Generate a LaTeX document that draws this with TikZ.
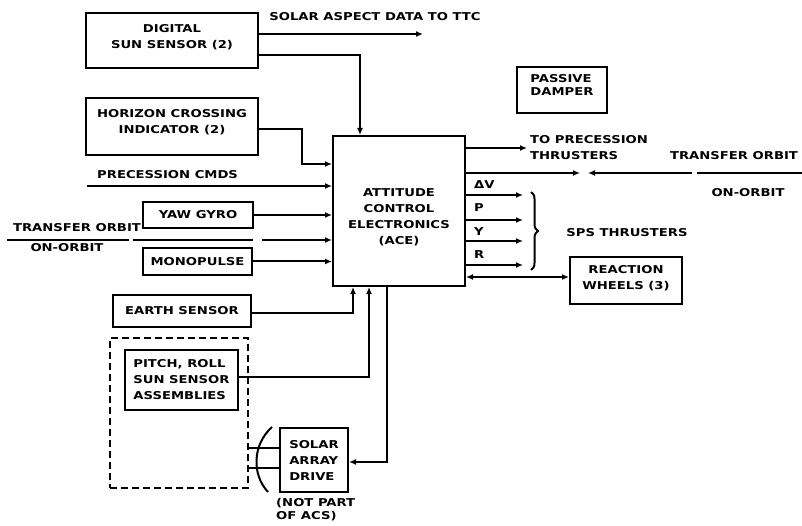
\documentclass[tikz,border=0pt]{standalone}
\usepackage{fontspec}
\setmainfont[FakeStretch=1.22]{DejaVu Sans}
\usetikzlibrary{arrows.meta,decorations.pathreplacing,calc}
\begin{document}
\begin{tikzpicture}[x=1pt,y=-1pt,
  every node/.style={font=\bfseries\fontsize{10.8}{16}\selectfont},
  box/.style={draw,line width=2pt,inner sep=0pt,align=center},
  dbox/.style={draw,line width=2pt,dashed,dash pattern=on 7pt off 4pt,inner sep=0pt},
  ln/.style={line width=2pt},
  arr/.style={line width=2pt,-{Latex[length=7pt,width=6pt]}},
  larr/.style={line width=2pt,{Latex[length=7pt,width=6pt]}-},
  barr/.style={line width=2pt,{Latex[length=7pt,width=6pt]}-{Latex[length=7pt,width=6pt]}},
  lbl/.style={inner sep=0pt}]
\useasboundingbox (0,0) rectangle (802,526);
% boxes
\node[box,minimum width=172pt,minimum height=55pt] (dss) at (172,40.5) {DIGITAL\\SUN SENSOR (2)\\[-8pt]};
\node[box,minimum width=172pt,minimum height=57pt] (hci) at (172,126.5) {HORIZON CROSSING\\INDICATOR (2)\\[-5pt]};
\node[box,minimum width=132pt,minimum height=150pt] (ace) at (399,211) {\rule{0pt}{20pt}ATTITUDE\\CONTROL\\ELECTRONICS\\(ACE)};
\node[box,minimum width=110pt,minimum height=26pt] (yaw) at (198,215) {YAW GYRO};
\node[box,minimum width=109pt,minimum height=27pt] (mono) at (197.5,261.5) {MONOPULSE};
\node[box,minimum width=138pt,minimum height=32pt] (earth) at (182,311) {EARTH SENSOR};
\node[dbox,minimum width=138pt,minimum height=150pt] (dash) at (179,413) {};
\node[box,minimum width=113pt,minimum height=60pt,align=left] (pitch) at (181.5,380) {PITCH, ROLL\\SUN SENSOR\\ASSEMBLIES};
\node[box,minimum width=68pt,minimum height=64pt,align=left] (sad) at (314,460) {SOLAR\\ARRAY\\DRIVE};
\node[box,minimum width=90pt,minimum height=46pt,align=left] (damp) at (562,90) {PASSIVE\\[-3pt]DAMPER\\[-6pt]};
\node[box,minimum width=112pt,minimum height=47pt] (rw) at (626,280.5) {REACTION\\WHEELS (3)\\[-10pt]};
% labels
\node[lbl] (tsolar) at (375,17) {SOLAR ASPECT DATA TO TTC};
\node[lbl,anchor=west,align=left] (tprec) at (530,148) {TO PRECESSION\\THRUSTERS};
\node[lbl] (ttor) at (734,156) {TRANSFER ORBIT};
\node[lbl] (tonr) at (748,193) {ON-ORBIT};
\node[lbl,anchor=west] (tcmd) at (97,175) {PRECESSION CMDS};
\node[lbl] (ttol) at (77,228) {TRANSFER ORBIT};
\node[lbl] (tonl) at (67,248) {ON-ORBIT};
\node[lbl,anchor=west] (tdv) at (474,185) {ΔV};
\node[lbl,anchor=west] (tp) at (474,208) {P};
\node[lbl,anchor=west] (ty) at (474,232) {Y};
\node[lbl,anchor=west] (tr) at (474,255) {R};
\node[lbl] (tsps) at (627,233) {SPS THRUSTERS};
\node[lbl,anchor=west,align=left] (tnot) at (276,510) {(NOT PART\\[-3pt]OF ACS)};
% coordinates
\coordinate (ttc) at (423,34);
\coordinate (a1) at (360,55);
\coordinate (h1) at (302,129);
\coordinate (h2) at (302,164);
\coordinate (pc) at (87,186);
\coordinate (o1) at (7,240);
\coordinate (o2) at (129,240);
\coordinate (o3) at (133,240);
\coordinate (o4) at (253,240);
\coordinate (o5) at (262,240);
\coordinate (e1) at (353,313);
\coordinate (p1) at (369,377);
\coordinate (s1) at (387,462);
\coordinate (pt) at (527,148);
\coordinate (r1) at (580,173);
\coordinate (r2) at (588,173);
\coordinate (r3) at (692,173);
\coordinate (r4) at (697,173);
\coordinate (r5) at (802,173);
\coordinate (tdvc) at (523,195);
\coordinate (tpc) at (523,220);
\coordinate (tyc) at (523,241);
\coordinate (trc) at (523,265);
\coordinate (rwc) at (560,277);
\coordinate (sh1) at (0,448);
\coordinate (sh2) at (0,468);
\coordinate (arcA) at (272,427);
\coordinate (arcB) at (268,492);
% connectors
\draw[arr] (dss.east |- ttc) -- (ttc);
\draw[arr] (dss.east |- a1) -- (a1) -- (a1 |- ace.north);
\draw[arr] (hci.east |- h1) -- (h1) -- (h2) -- (ace.west |- h2);
\draw[arr] (pc) -- (ace.west |- pc);
\draw[arr] (yaw.east) -- (ace.west |- yaw.east);
\draw[ln] (o1) -- (o2);
\draw[ln] (o3) -- (o4);
\draw[arr] (o5) -- (ace.west |- o5);
\draw[arr] (mono.east) -- (ace.west |- mono.east);
\draw[arr] (earth.east |- e1) -- (e1) -- (e1 |- ace.south);
\draw[arr] (pitch.east |- p1) -- (p1) -- (p1 |- ace.south);
\draw[arr] (s1 |- ace.south) -- (s1) -- (sad.east |- s1);
\draw[ln] (dash.east |- sh1) -- (sad.west |- sh1);
\draw[ln] (dash.east |- sh2) -- (sad.west |- sh2);
\draw[ln] (arcA) .. controls (252,445) and (252,475) .. (arcB);
\draw[arr] (ace.east |- pt) -- (pt);
\draw[arr] (ace.east |- r1) -- (r1);
\draw[larr] (r2) -- (r3);
\draw[ln] (r4) -- (r5);
\draw[arr] (ace.east |- tdvc) -- (tdvc);
\draw[arr] (ace.east |- tpc) -- (tpc);
\draw[arr] (ace.east |- tyc) -- (tyc);
\draw[arr] (ace.east |- trc) -- (trc);
\draw[line width=2pt,decorate,decoration={brace,amplitude=7pt}] (531,192) -- (531,270);
\draw[barr] (ace.east |- rwc) -- (rw.west |- rwc);
\end{tikzpicture}
\end{document}
